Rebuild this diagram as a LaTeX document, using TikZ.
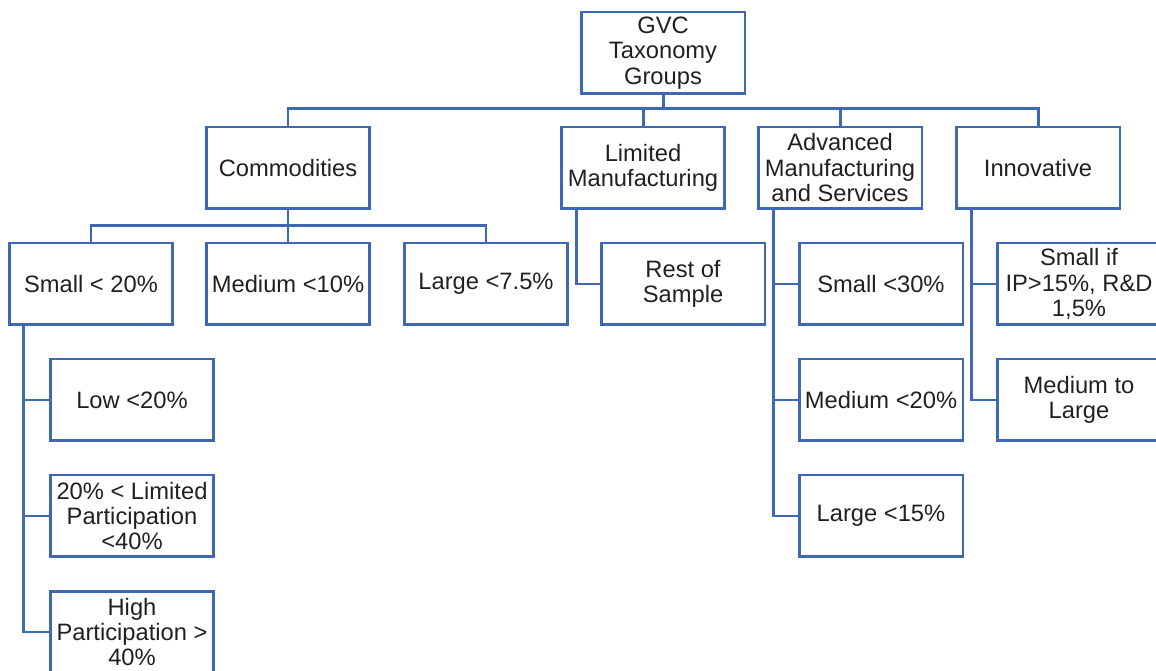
\documentclass[tikz,border=0pt]{standalone}
\usepackage{fontspec}
\setmainfont{Liberation Sans}
\definecolor{boxblue}{RGB}{62,104,178}
\definecolor{inkgray}{RGB}{35,31,32}
\begin{document}
\begin{tikzpicture}[x=0.02cm,y=-0.02cm,
	box/.style={draw=boxblue, line width=1.7pt, rectangle, minimum width=3.28cm, minimum height=1.64cm, inner sep=1pt, align=center, text=inkgray, font=\fontsize{13.5}{14.5}\selectfont},
	link/.style={draw=boxblue, line width=1.7pt}]
	\useasboundingbox (0,0) rectangle (1156,671);
	\clip (0,0) rectangle (1156,671);
	
	\node[box] (root) at (663,53) {GVC\\Taxonomy\\Groups};
	
	\node[box] (comm) at (288,168) {Commodities};
	\node[box] (limman) at (643,168) {Limited\\Manufacturing};
	\node[box] (adv) at (840,168) {Advanced\\Manufacturing\\and Services};
	\node[box] (innov) at (1038,168) {Innovative};
	
	\node[box] (small) at (91,284) {Small < 20\%};
	\node[box] (medium) at (288,284) {Medium <10\%};
	\node[box] (large) at (486,284) {Large <7.5\%};
	\node[box] (rest) at (683,284) {Rest of\\Sample};
	
	\node[box] (advsmall) at (881,284) {Small <30\%};
	\node[box] (advmed) at (881,400) {Medium <20\%};
	\node[box] (advlarge) at (881,516) {Large <15\%};
	
	\node[box] (innsmall) at (1079,284) {Small if\\IP>15\%, R\&D\\1,5\%};
	\node[box] (innmed) at (1079,400) {Medium to\\Large};
	
	\node[box] (low) at (132,400) {Low <20\%};
	\node[box] (limpart) at (132,516) {20\% < Limited\\Participation\\<40\%};
	\node[box] (high) at (132,632) {High\\Participation >\\40\%};
	
	% top level
	\foreach \child in {comm,limman,adv,innov}
		\draw[link] (root.south) |- ([yshift=0.34cm]\child.north) -- (\child.north);
	% commodities
	\foreach \child in {small,medium,large}
		\draw[link] (comm.south) |- ([yshift=0.32cm]\child.north) -- (\child.north);
	% side spines
	\draw[link] ([xshift=0.34cm]limman.south west) |- (rest.west);
	\foreach \child in {advsmall,advmed,advlarge}
		\draw[link] ([xshift=0.34cm]adv.south west) |- (\child.west);
	\foreach \child in {innsmall,innmed}
		\draw[link] ([xshift=0.34cm]innov.south west) |- (\child.west);
	\foreach \child in {low,limpart,high}
		\draw[link] ([xshift=0.32cm]small.south west) |- (\child.west);
\end{tikzpicture}
\end{document}
